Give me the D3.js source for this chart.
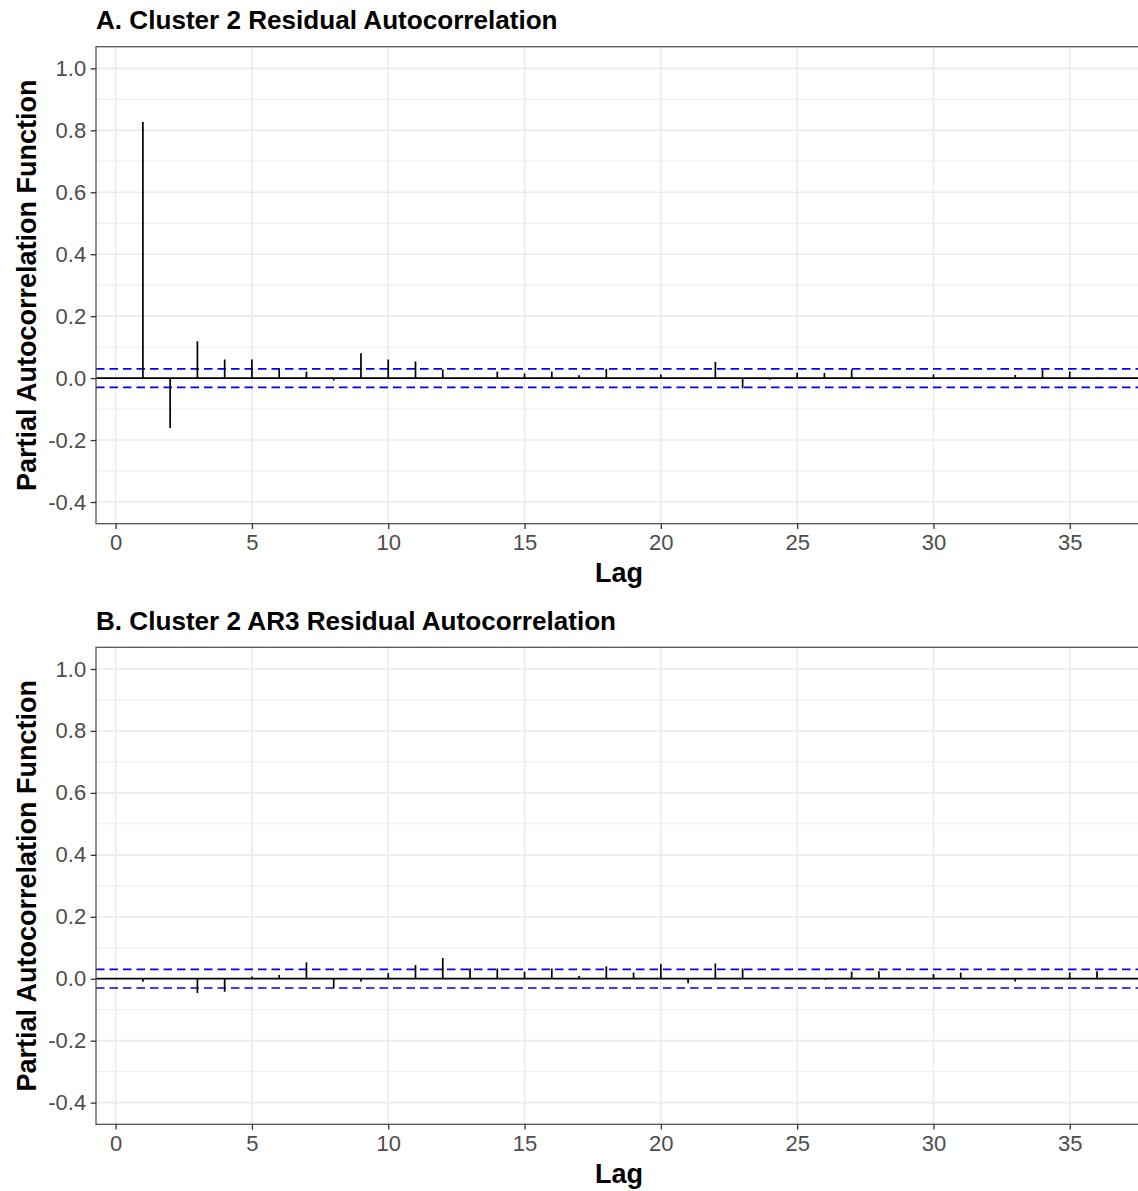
<!DOCTYPE html>
<html>
<head>
<meta charset="utf-8">
<script src="https://cdn.jsdelivr.net/npm/d3@7/dist/d3.min.js"></script>
<style>
  html, body { margin: 0; padding: 0; background: #fff; overflow: hidden; }
  svg { display: block; font-family: "Liberation Sans", Arial, sans-serif; }
</style>
</head>
<body>
<svg id="chart" width="1138" height="1191"></svg>
<script>
// Partial autocorrelation of the residuals, lags 1..37
const lags = d3.range(1, 38);

const pacfResidual = [
  0.827, -0.161, 0.119, 0.060, 0.060, 0.028, 0.021, -0.008, 0.080, 0.060,
  0.054, 0.028, 0.002, 0.021, 0.015, 0.021, 0.009, 0.030, 0.001, 0.012,
  -0.003, 0.052, -0.033, -0.005, 0.017, 0.017, 0.028, 0.001, 0.001, 0.012,
  0.001, 0.001, 0.010, 0.026, 0.021, 0.003, 0.001
];

const pacfAR3 = [
  -0.010, 0.001, -0.046, -0.042, 0.007, 0.012, 0.053, -0.031, -0.009, 0.018,
  0.044, 0.067, 0.033, 0.033, 0.023, 0.033, 0.009, 0.040, 0.020, 0.047,
  -0.015, 0.049, 0.033, 0.001, 0.001, -0.003, 0.023, 0.024, 0.003, 0.015,
  0.020, 0.001, -0.009, -0.002, 0.020, 0.024, 0.001
];

// 95% significance bound
const confBound = 0.03;

const xTicks = [0, 5, 10, 15, 20, 25, 30, 35];
const yTicks = [-0.4, -0.2, 0.0, 0.2, 0.4, 0.6, 0.8, 1.0];
const yMinor = [-0.3, -0.1, 0.1, 0.3, 0.5, 0.7, 0.9];
const xDomain = [-0.72, 37.65];
const yDomain = [-0.47, 1.07];

const panels = [
  { title: "A. Cluster 2 Residual Autocorrelation", values: pacfResidual, top: 46.7 },
  { title: "B. Cluster 2 AR3 Residual Autocorrelation", values: pacfAR3, top: 647.3 }
];

const svg = d3.select("#chart");
const left = 96, right = 1142, panelH = 477;
const fmtY = d => d3.format(".1f")(d).replace("\u2212", "-");

const x = d3.scaleLinear().domain(xDomain).range([left, right]);

panels.forEach(p => {
  const top = p.top, bottom = top + panelH;
  const y = d3.scaleLinear().domain(yDomain).range([bottom, top]);
  const g = svg.append("g");

  // plot title
  g.append("text")
    .attr("x", left).attr("y", top - 17.6)
    .attr("font-size", 26.1).attr("font-weight", "bold").attr("fill", "#000")
    .text(p.title);

  // grid
  const grid = g.append("g");
  grid.selectAll(".ymin").data(yMinor).enter().append("line")
    .attr("x1", left).attr("x2", right)
    .attr("y1", d => y(d)).attr("y2", d => y(d))
    .attr("stroke", "#EBEBEB").attr("stroke-width", 0.9);
  grid.selectAll(".ymaj").data(yTicks).enter().append("line")
    .attr("x1", left).attr("x2", right)
    .attr("y1", d => y(d)).attr("y2", d => y(d))
    .attr("stroke", "#EBEBEB").attr("stroke-width", 1.6);
  grid.selectAll(".xmaj").data(xTicks).enter().append("line")
    .attr("y1", top).attr("y2", bottom)
    .attr("x1", d => x(d)).attr("x2", d => x(d))
    .attr("stroke", "#EBEBEB").attr("stroke-width", 1.6);

  // zero line
  g.append("line")
    .attr("x1", left).attr("x2", right)
    .attr("y1", y(0)).attr("y2", y(0))
    .attr("stroke", "#000").attr("stroke-width", 1.7);

  // significance bounds
  [confBound, -confBound].forEach(b => {
    g.append("line")
      .attr("x1", left).attr("x2", right)
      .attr("y1", y(b)).attr("y2", y(b))
      .attr("stroke", "#0000FF").attr("stroke-width", 1.7)
      .attr("stroke-dasharray", "8.5,5");
  });

  // spikes
  g.selectAll(".spike").data(lags.map((l, i) => ({ lag: l, v: p.values[i] })))
    .enter().append("line")
    .attr("x1", d => x(d.lag)).attr("x2", d => x(d.lag))
    .attr("y1", y(0)).attr("y2", d => y(d.v))
    .attr("stroke", "#000").attr("stroke-width", 1.7);

  // panel border
  g.append("rect")
    .attr("x", left).attr("y", top)
    .attr("width", right - left).attr("height", panelH)
    .attr("fill", "none").attr("stroke", "#555").attr("stroke-width", 1.3);

  // y axis
  const yAxis = g.append("g")
    .attr("transform", `translate(${left},0)`)
    .call(d3.axisLeft(y).tickValues(yTicks).tickFormat(fmtY).tickSize(5.3).tickPadding(4.5));
  yAxis.select(".domain").remove();
  yAxis.selectAll(".tick line").attr("stroke", "#333").attr("stroke-width", 1.3);
  yAxis.selectAll(".tick text")
    .attr("font-size", 22).attr("fill", "#4D4D4D")
    .attr("font-family", "'Liberation Sans', Arial, sans-serif");

  // x axis
  const xAxis = g.append("g")
    .attr("transform", `translate(0,${bottom})`)
    .call(d3.axisBottom(x).tickValues(xTicks).tickFormat(d3.format("d")).tickSize(5.3).tickPadding(5.5));
  xAxis.select(".domain").remove();
  xAxis.selectAll(".tick line").attr("stroke", "#333").attr("stroke-width", 1.3);
  xAxis.selectAll(".tick text")
    .attr("font-size", 22).attr("fill", "#4D4D4D")
    .attr("font-family", "'Liberation Sans', Arial, sans-serif");

  // axis titles
  g.append("text")
    .attr("x", (left + right) / 2).attr("y", bottom + 58.6)
    .attr("text-anchor", "middle")
    .attr("font-size", 27).attr("font-weight", "bold").attr("fill", "#000")
    .text("Lag");

  g.append("text")
    .attr("transform", `translate(36,${(top + bottom) / 2}) rotate(-90)`)
    .attr("text-anchor", "middle")
    .attr("font-size", 27).attr("font-weight", "bold").attr("fill", "#000")
    .text("Partial Autocorrelation Function");
});
</script>
</body>
</html>
